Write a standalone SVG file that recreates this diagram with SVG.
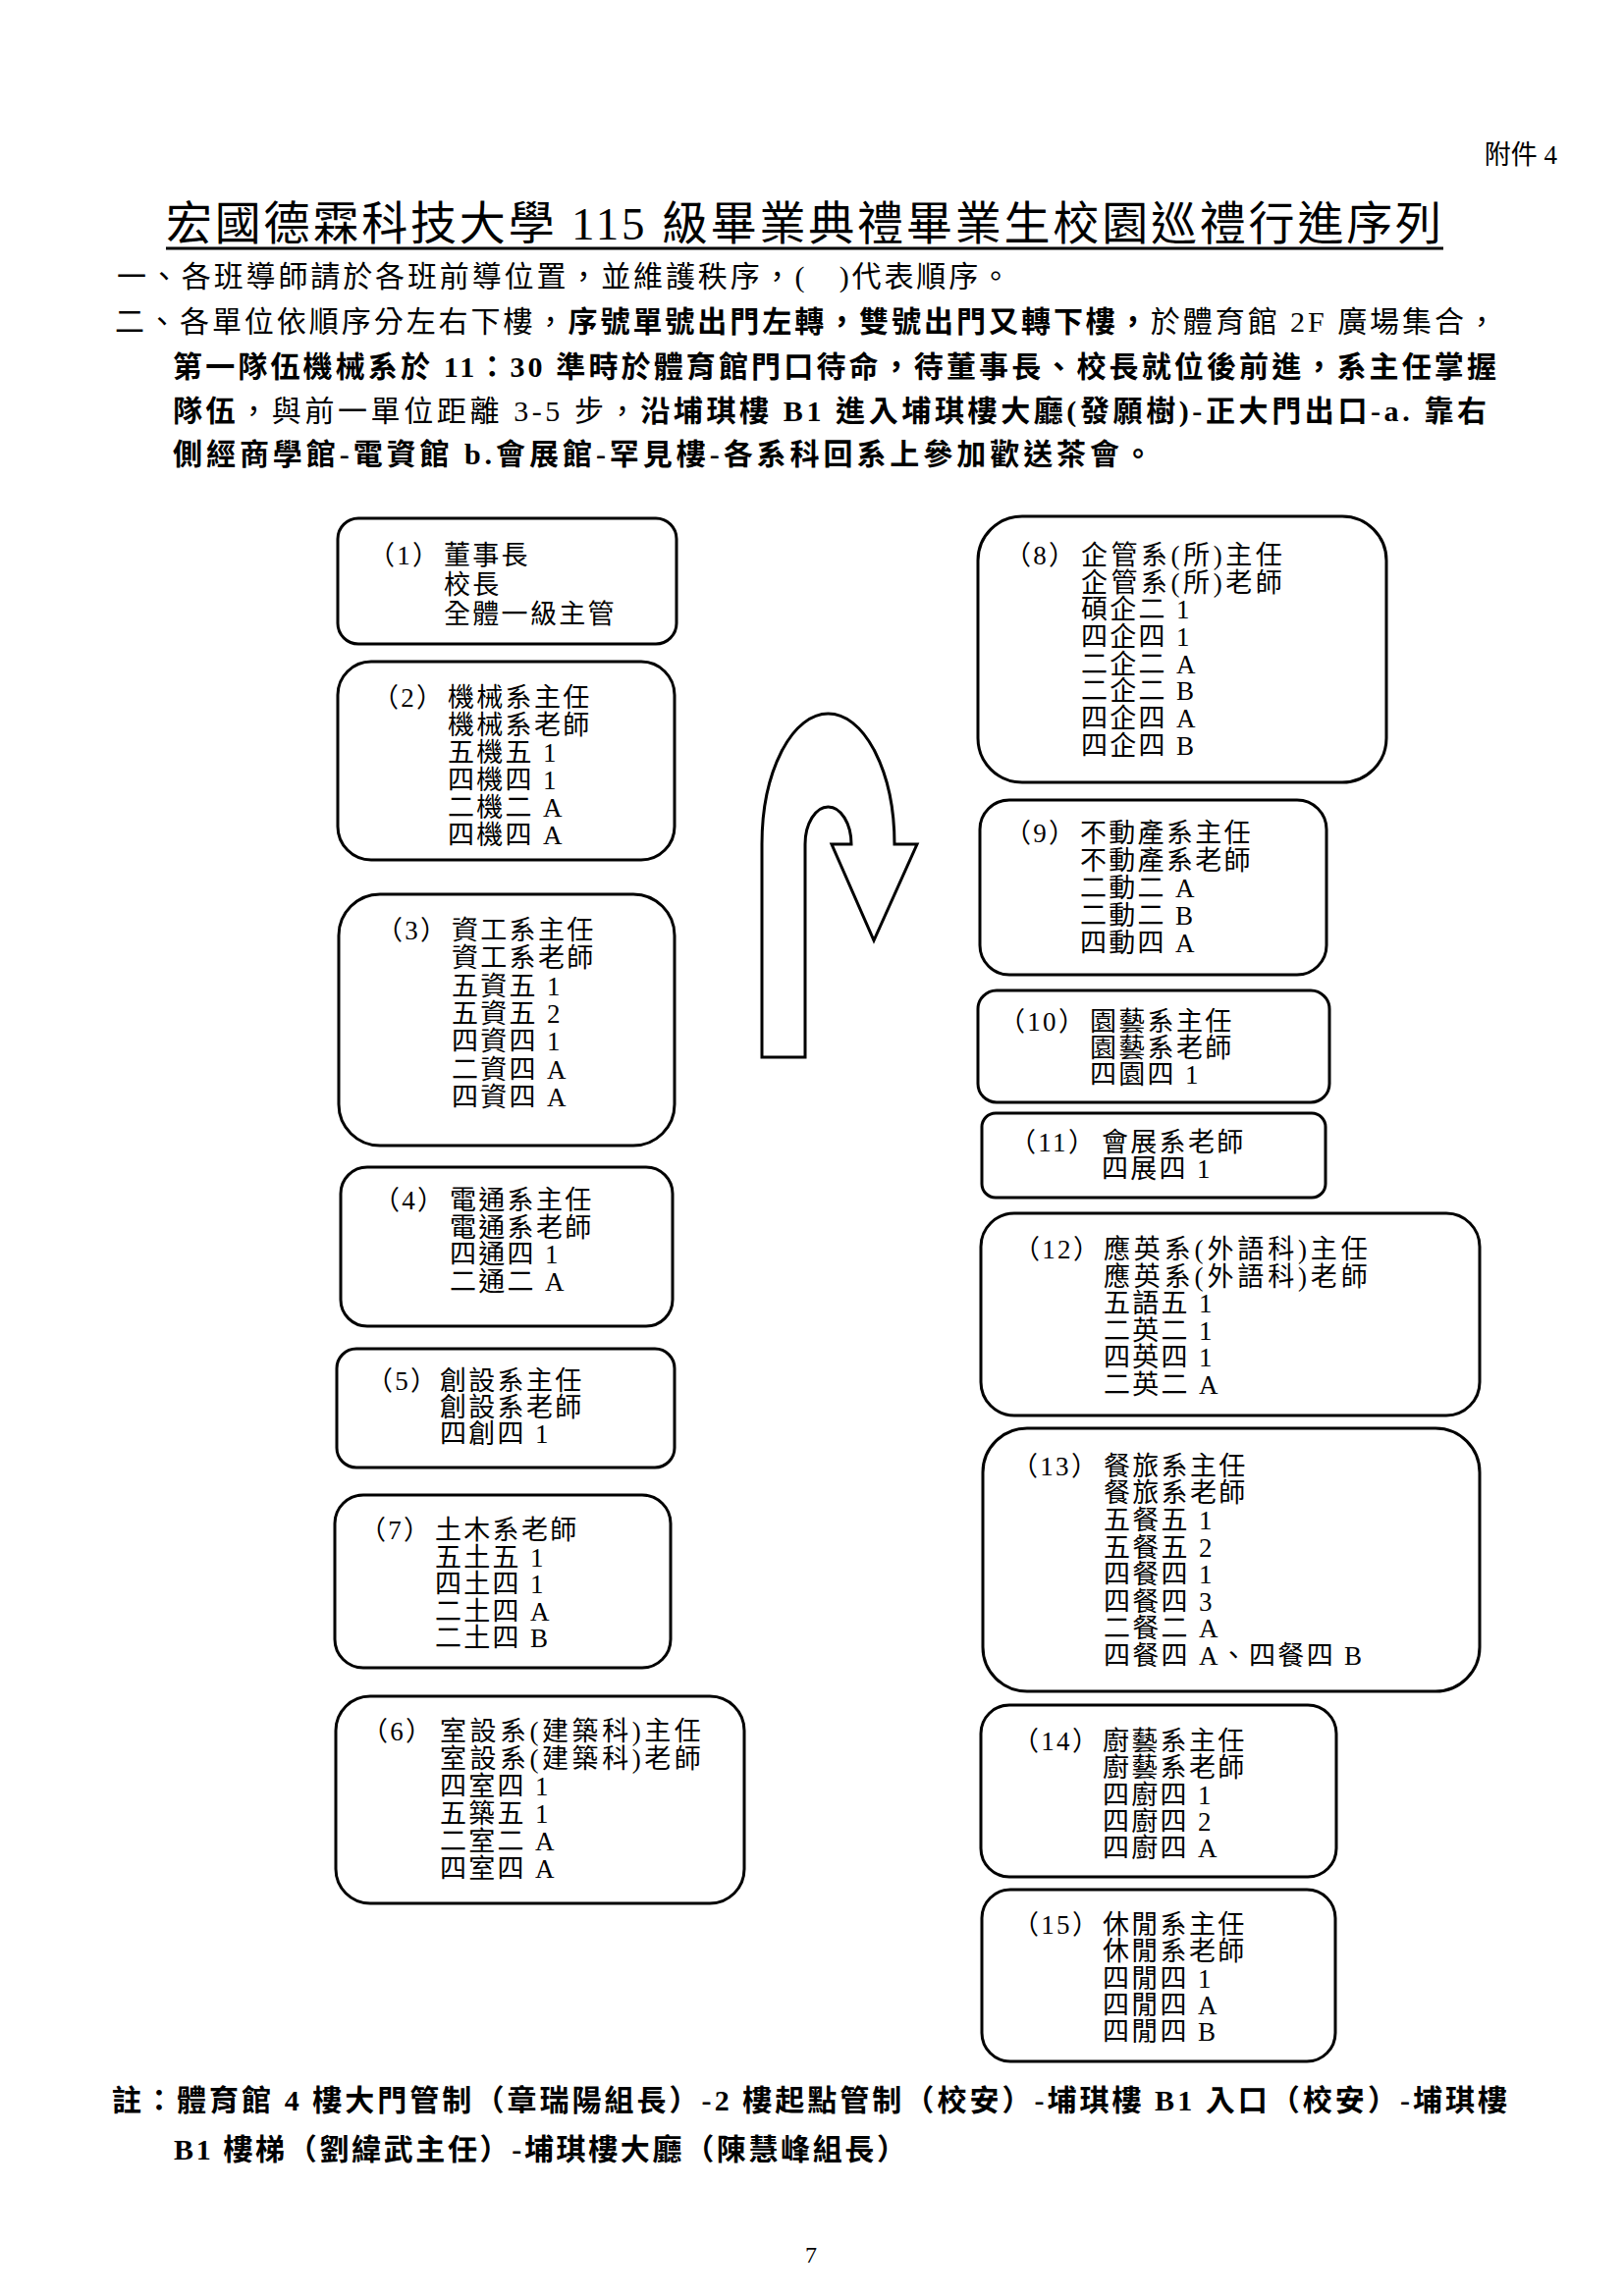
<svg xmlns="http://www.w3.org/2000/svg" width="1654" height="2339" viewBox="0 0 1654 2339">
<style>
text{font-family:"Liberation Serif","Noto Sans CJK TC",serif;fill:#000}
.box{fill:#fff;stroke:#000;stroke-width:3}
.bt{font-size:27px;letter-spacing:2.3px}
.body{font-size:30px}
.b{font-weight:bold}
.arrow{fill:#fff;stroke:#000;stroke-width:3;stroke-linejoin:miter}
</style>
<rect width="1654" height="2339" fill="#fff"/>
<g id="header">
<text x="1586" y="167" font-size="27" text-anchor="end">附件 4</text>
<text x="169" y="244" font-size="47" textLength="1299" lengthAdjust="spacing">宏國德霖科技大學 115 級畢業典禮畢業生校園巡禮行進序列</text>
<line x1="169" y1="253" x2="1470" y2="253" stroke="#000" stroke-width="3"/>
<text class="body" x="119" y="292" textLength="910" lengthAdjust="spacing">一、各班導師請於各班前導位置，並維護秩序，(  <tspan dx="22">)</tspan>代表順序。</text>
<text class="body" x="117" y="338" textLength="1407" lengthAdjust="spacing">二、各單位依順序分左右下樓，<tspan class="b">序號單號出門左轉，雙號出門又轉下樓，</tspan>於體育館 2F 廣場集合，</text>
<text class="body b" x="176" y="384" textLength="1348" lengthAdjust="spacing">第一隊伍機械系於 11：30 準時於體育館門口待命，待董事長、校長就位後前進，系主任掌握</text>
<text class="body" x="176" y="429" textLength="1338" lengthAdjust="spacing"><tspan class="b">隊伍</tspan>，與前一單位距離 3-5 步，<tspan class="b">沿埔琪樓 B1 進入埔琪樓大廳(發願樹)-正大門出口-a. 靠右</tspan></text>
<text class="body b" x="176" y="473" textLength="998" lengthAdjust="spacing">側經商學館-電資館  b.會展館-罕見樓-各系科回系上參加歡送茶會。</text>
</g>
<g id="connectors">
<path class="arrow" d="M776,1077 V860 A67.5,133 0 0 1 911,860 H934 L890,958 L847,860 H867 A23.5,38 0 0 0 820,860 V1077 Z"/>
</g>
<g id="n1">
<rect class="box" x="344" y="528" width="345" height="128" rx="21"/>
<text class="bt" x="375" y="575">（1）<tspan x="452">董事長</tspan></text>
<text class="bt" x="452" y="605">校長</text>
<text class="bt" x="452" y="635">全體一級主管</text>
</g>
<g id="n2">
<rect class="box" x="344" y="674" width="343" height="202" rx="34"/>
<text class="bt" x="379" y="720">（2）<tspan x="456">機械系主任</tspan></text>
<text class="bt" x="456" y="748">機械系老師</text>
<text class="bt" x="456" y="776">五機五 1</text>
<text class="bt" x="456" y="804">四機四 1</text>
<text class="bt" x="456" y="832">二機二 A</text>
<text class="bt" x="456" y="860">四機四 A</text>
</g>
<g id="n3">
<rect class="box" x="345" y="911" width="342" height="256" rx="42"/>
<text class="bt" x="383" y="957">（3）<tspan x="460">資工系主任</tspan></text>
<text class="bt" x="460" y="985">資工系老師</text>
<text class="bt" x="460" y="1014">五資五 1</text>
<text class="bt" x="460" y="1042">五資五 2</text>
<text class="bt" x="460" y="1070">四資四 1</text>
<text class="bt" x="460" y="1099">二資四 A</text>
<text class="bt" x="460" y="1127">四資四 A</text>
</g>
<g id="n4">
<rect class="box" x="347" y="1189" width="338" height="162" rx="27"/>
<text class="bt" x="380" y="1232">（4）<tspan x="458">電通系主任</tspan></text>
<text class="bt" x="458" y="1260">電通系老師</text>
<text class="bt" x="458" y="1287">四通四 1</text>
<text class="bt" x="458" y="1315">二通二 A</text>
</g>
<g id="n5">
<rect class="box" x="343" y="1374" width="344" height="121" rx="20"/>
<text class="bt" x="373" y="1416">（5）<tspan x="448">創設系主任</tspan></text>
<text class="bt" x="448" y="1443">創設系老師</text>
<text class="bt" x="448" y="1470">四創四 1</text>
</g>
<g id="n7">
<rect class="box" x="341" y="1523" width="342" height="176" rx="29"/>
<text class="bt" x="366" y="1568">（7）<tspan x="443">土木系老師</tspan></text>
<text class="bt" x="443" y="1596">五土五 1</text>
<text class="bt" x="443" y="1623">四土四 1</text>
<text class="bt" x="443" y="1651">二土四 A</text>
<text class="bt" x="443" y="1678">二土四 B</text>
</g>
<g id="n6">
<rect class="box" x="342" y="1728" width="416" height="211" rx="35"/>
<text class="bt" x="368" y="1773">（6）</text>
<text class="bt" x="448" y="1773" textLength="268" lengthAdjust="spacing">室設系(建築科)主任</text>
<text class="bt" x="448" y="1801" textLength="268" lengthAdjust="spacing">室設系(建築科)老師</text>
<text class="bt" x="448" y="1829">四室四 1</text>
<text class="bt" x="448" y="1857">五築五 1</text>
<text class="bt" x="448" y="1885">二室二 A</text>
<text class="bt" x="448" y="1913">四室四 A</text>
</g>
<g id="n8">
<rect class="box" x="996" y="526" width="416" height="271" rx="45"/>
<text class="bt" x="1023" y="575">（8）</text>
<text class="bt" x="1101" y="575" textLength="207" lengthAdjust="spacing">企管系(所)主任</text>
<text class="bt" x="1101" y="603" textLength="207" lengthAdjust="spacing">企管系(所)老師</text>
<text class="bt" x="1101" y="630">碩企二 1</text>
<text class="bt" x="1101" y="658">四企四 1</text>
<text class="bt" x="1101" y="686">二企二 A</text>
<text class="bt" x="1101" y="713">二企二 B</text>
<text class="bt" x="1101" y="741">四企四 A</text>
<text class="bt" x="1101" y="769">四企四 B</text>
</g>
<g id="n9">
<rect class="box" x="998" y="815" width="353" height="178" rx="30"/>
<text class="bt" x="1023" y="858">（9）<tspan x="1100">不動產系主任</tspan></text>
<text class="bt" x="1100" y="886">不動產系老師</text>
<text class="bt" x="1100" y="914">二動二 A</text>
<text class="bt" x="1100" y="942">二動二 B</text>
<text class="bt" x="1100" y="970">四動四 A</text>
</g>
<g id="n10">
<rect class="box" x="996" y="1009" width="358" height="114" rx="19"/>
<text class="bt" x="1017" y="1050">（10）<tspan x="1110">園藝系主任</tspan></text>
<text class="bt" x="1110" y="1077">園藝系老師</text>
<text class="bt" x="1110" y="1104">四園四 1</text>
</g>
<g id="n11">
<rect class="box" x="1000" y="1134" width="350" height="86" rx="14"/>
<text class="bt" x="1028" y="1173">（11）<tspan x="1122">會展系老師</tspan></text>
<text class="bt" x="1122" y="1200">四展四 1</text>
</g>
<g id="n12">
<rect class="box" x="999" y="1236" width="508" height="206" rx="34"/>
<text class="bt" x="1032" y="1282">（12）</text>
<text class="bt" x="1124" y="1282" textLength="271" lengthAdjust="spacing">應英系(外語科)主任</text>
<text class="bt" x="1124" y="1310" textLength="271" lengthAdjust="spacing">應英系(外語科)老師</text>
<text class="bt" x="1124" y="1337">五語五 1</text>
<text class="bt" x="1124" y="1365">二英二 1</text>
<text class="bt" x="1124" y="1392">四英四 1</text>
<text class="bt" x="1124" y="1420">二英二 A</text>
</g>
<g id="n13">
<rect class="box" x="1001" y="1455" width="506" height="268" rx="45"/>
<text class="bt" x="1030" y="1503">（13）<tspan x="1124">餐旅系主任</tspan></text>
<text class="bt" x="1124" y="1530">餐旅系老師</text>
<text class="bt" x="1124" y="1558">五餐五 1</text>
<text class="bt" x="1124" y="1586">五餐五 2</text>
<text class="bt" x="1124" y="1613">四餐四 1</text>
<text class="bt" x="1124" y="1641">四餐四 3</text>
<text class="bt" x="1124" y="1668">二餐二 A</text>
<text class="bt" x="1124" y="1696">四餐四 A、四餐四 B</text>
</g>
<g id="n14">
<rect class="box" x="999" y="1737" width="362" height="175" rx="29"/>
<text class="bt" x="1031" y="1783">（14）<tspan x="1123">廚藝系主任</tspan></text>
<text class="bt" x="1123" y="1810">廚藝系老師</text>
<text class="bt" x="1123" y="1838">四廚四 1</text>
<text class="bt" x="1123" y="1865">四廚四 2</text>
<text class="bt" x="1123" y="1892">四廚四 A</text>
</g>
<g id="n15">
<rect class="box" x="1000" y="1925" width="360" height="175" rx="29"/>
<text class="bt" x="1031" y="1970">（15）<tspan x="1123">休閒系主任</tspan></text>
<text class="bt" x="1123" y="1997">休閒系老師</text>
<text class="bt" x="1123" y="2025">四閒四 1</text>
<text class="bt" x="1123" y="2052">四閒四 A</text>
<text class="bt" x="1123" y="2079">四閒四 B</text>
</g>
<g id="footer">
<text class="body b" x="114" y="2150" textLength="1421" lengthAdjust="spacing">註：體育館 4 樓大門管制（章瑞陽組長）-2 樓起點管制（校安）-埔琪樓 B1 入口（校安）-埔琪樓</text>
<text class="body b" x="177" y="2200" textLength="746" lengthAdjust="spacing">B1 樓梯（劉緯武主任）-埔琪樓大廳（陳慧峰組長）</text>
<text x="826" y="2305" font-size="24" text-anchor="middle">7</text>
</g>
</svg>
